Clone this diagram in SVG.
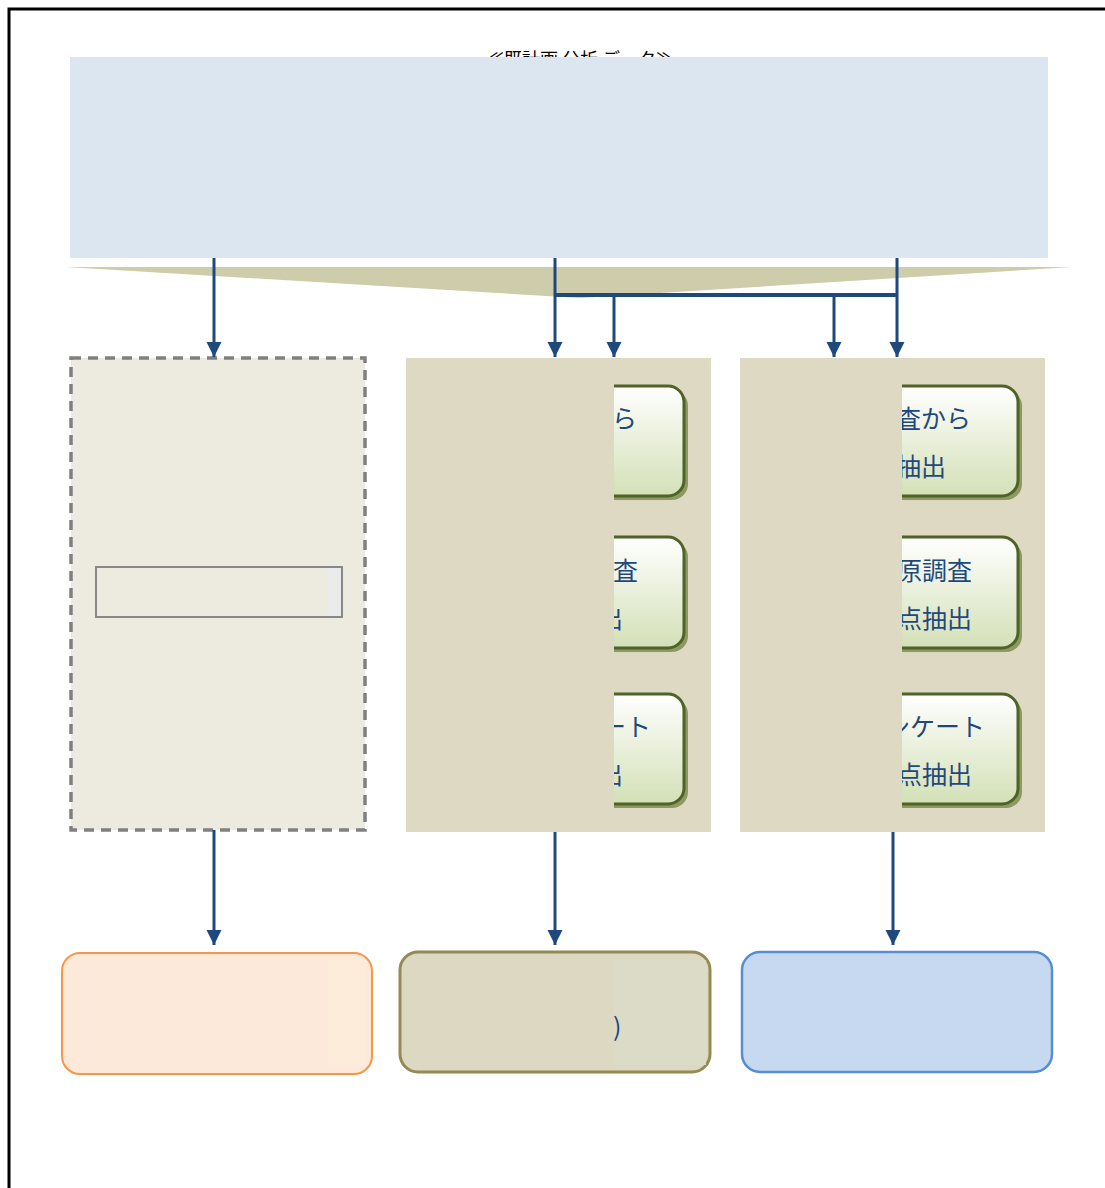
<svg xmlns="http://www.w3.org/2000/svg" width="1105" height="1188" viewBox="0 0 1105 1188">
<defs>
<linearGradient id="g" x1="0" y1="0" x2="0" y2="1">
<stop offset="0" stop-color="#ffffff"/>
<stop offset="1" stop-color="#d3e0b6"/>
</linearGradient>
<marker id="a" viewBox="0 0 10 10" refX="10" refY="5" markerWidth="5" markerHeight="5.5" orient="auto" markerUnits="strokeWidth">
<path d="M0,0 L10,5 L0,10 z" fill="#1f497d"/>
</marker>
</defs>
<style>
.t{font-family:"Noto Sans CJK JP","Noto Sans CJK SC",sans-serif;font-size:25px;fill:#1f497d}
.c{stroke:#1f497d;stroke-width:4;fill:none}
.ca{stroke:#1f497d;stroke-width:3;fill:none;marker-end:url(#a)}
.bx{fill:url(#g);stroke:#4f6228;stroke-width:3}
.sh{fill:#8c9a62}
.panel{fill:#ddd9c3}
</style>
<rect x="9" y="9" width="1110" height="1200" fill="#ffffff" stroke="#000" stroke-width="3"/>
<g id="title">
<text x="580" y="66" text-anchor="middle" font-family="Noto Sans CJK JP, sans-serif" font-size="18" fill="#000">≪既計画 分析 データ≫</text>
</g>
<g id="header">
<rect x="70" y="57" width="978" height="201" fill="#dce6f1"/>
</g>
<g id="funnel">
<polygon points="66,267 1072,267 580,298" fill="#cdccab"/>
</g>
<g id="panel-left">
<rect x="71" y="358" width="294" height="472" fill="#edebe0" stroke="#808080" stroke-width="3.5" stroke-dasharray="10,7"/>
<rect x="96" y="567" width="246" height="50" fill="#edebe0" stroke="#888" stroke-width="2"/>
<rect x="328" y="568" width="13" height="48" fill="#ebebeb"/>
</g>
<g id="panel-mid">
<rect class="panel" x="406" y="358" width="305" height="474"/>
<g id="mid-box1"><rect class="sh" x="433" y="390" width="255" height="110" rx="16"/><rect class="bx" x="430" y="386" width="254" height="110" rx="16"/>
<text class="t" x="637" y="428" text-anchor="end">から</text></g>
<g id="mid-box2"><rect class="sh" x="433" y="541" width="255" height="111" rx="16"/><rect class="bx" x="430" y="537" width="254" height="111" rx="16"/>
<text class="t" x="638" y="580" text-anchor="end">査</text><text class="t" x="623" y="628" text-anchor="end">出</text></g>
<g id="mid-box3"><rect class="sh" x="433" y="698" width="255" height="110" rx="16"/><rect class="bx" x="430" y="694" width="254" height="110" rx="16"/>
<text class="t" x="651" y="736" text-anchor="end">ート</text><text class="t" x="623" y="784" text-anchor="end">出</text></g>
<rect class="panel" x="406" y="358" width="208" height="474"/>
</g>
<g id="panel-right">
<rect class="panel" x="740" y="358" width="305" height="474"/>
<g id="right-box1"><rect class="sh" x="767" y="390" width="255" height="110" rx="16"/><rect class="bx" x="764" y="386" width="254" height="110" rx="16"/>
<text class="t" x="971" y="428" text-anchor="end">査から</text><text class="t" x="946" y="476" text-anchor="end">抽出</text></g>
<g id="right-box2"><rect class="sh" x="767" y="541" width="255" height="111" rx="16"/><rect class="bx" x="764" y="537" width="254" height="111" rx="16"/>
<text class="t" x="972" y="580" text-anchor="end">原調査</text><text class="t" x="972" y="628" text-anchor="end">点抽出</text></g>
<g id="right-box3"><rect class="sh" x="767" y="698" width="255" height="110" rx="16"/><rect class="bx" x="764" y="694" width="254" height="110" rx="16"/>
<text class="t" x="985" y="736" text-anchor="end">ンケート</text><text class="t" x="972" y="784" text-anchor="end">点抽出</text></g>
<rect class="panel" x="740" y="358" width="162" height="474"/>
</g>
<g id="out-left">
<rect x="62" y="953" width="310" height="121" rx="18" fill="#fde9d9" stroke="#f79646" stroke-width="2"/>
<rect x="328" y="960" width="38" height="106" fill="#fdecda"/>
</g>
<g id="out-mid">
<rect x="400" y="952" width="310" height="120" rx="18" fill="#ddd8c2" stroke="#948a54" stroke-width="3"/>
<rect x="614" y="960" width="92" height="105" fill="#dbdbc8"/>
<text class="t" x="613" y="1036">)</text>
</g>
<g id="out-right">
<rect x="742" y="952" width="310" height="120" rx="18" fill="#c6d9f1" stroke="#558ed5" stroke-width="2.5"/>
</g>
<g id="connectors">
<line class="ca" x1="214" y1="258" x2="214" y2="357"/>
<line class="ca" x1="555" y1="258" x2="555" y2="357"/>
<line class="ca" x1="897" y1="258" x2="897" y2="357"/>
<polyline class="c" points="555,295 897,295"/>
<line class="ca" x1="614" y1="295" x2="614" y2="357"/>
<line class="ca" x1="834" y1="295" x2="834" y2="357"/>
<line class="ca" x1="214" y1="830" x2="214" y2="945"/>
<line class="ca" x1="555" y1="832" x2="555" y2="945"/>
<line class="ca" x1="893" y1="832" x2="893" y2="945"/>
</g>
</svg>
